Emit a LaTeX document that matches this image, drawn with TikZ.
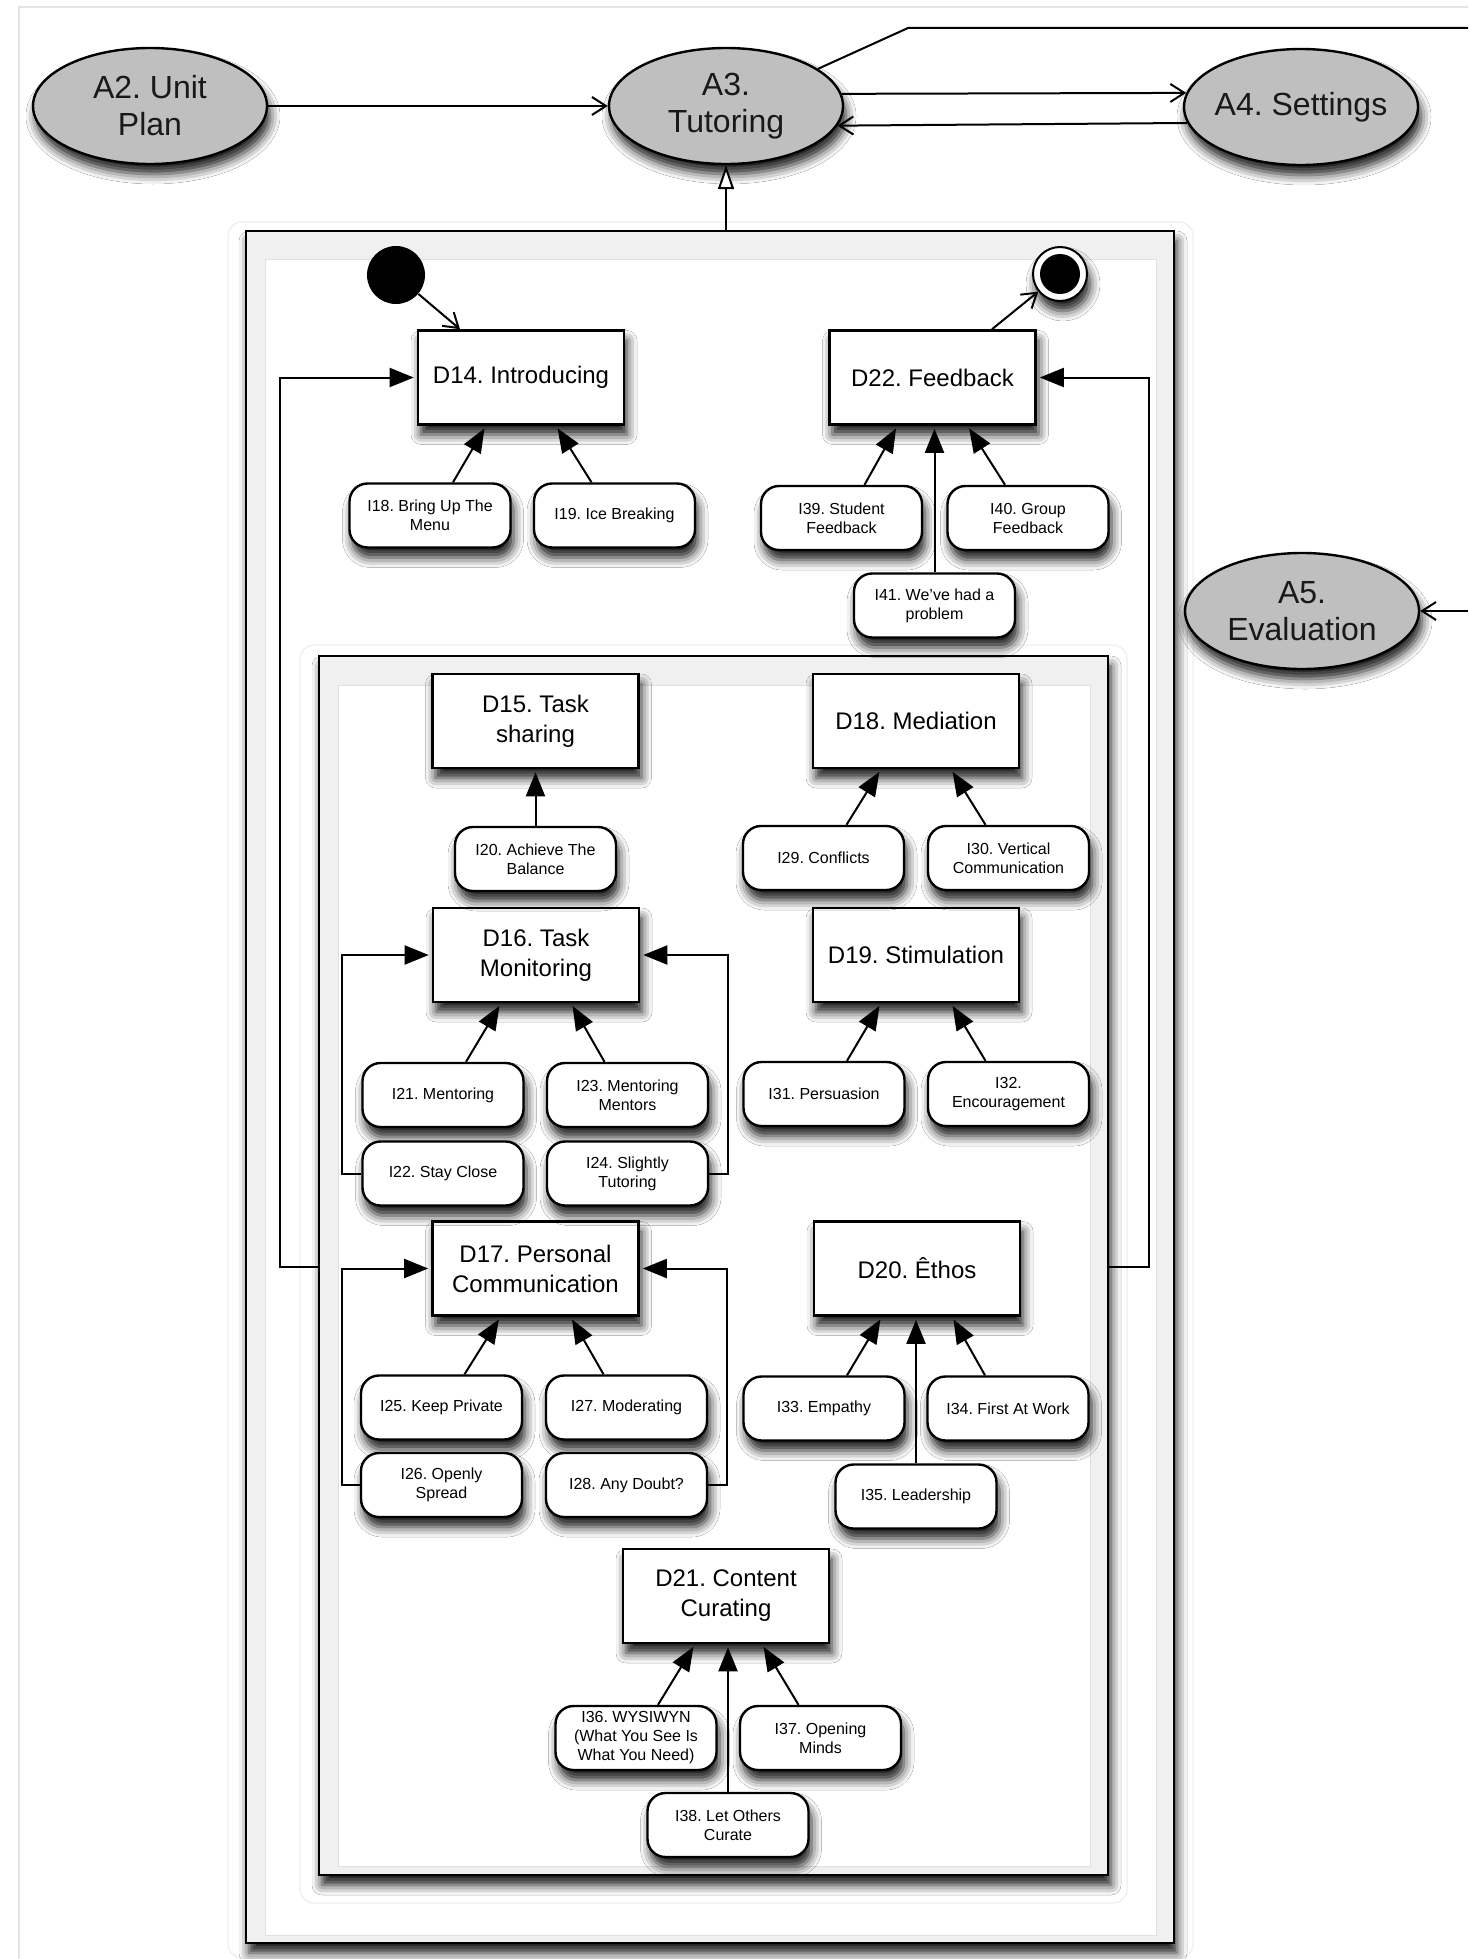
\documentclass[tikz,border=0pt]{standalone}
\usepackage{fontspec}
\setmainfont{Liberation Sans}
\usetikzlibrary{arrows.meta,shapes.geometric,shadows.blur}

\begin{document}
\frenchspacing
\begin{tikzpicture}[x=0.5pt,y=-0.5pt,
  shd/.style={blur shadow={shadow xshift=1.5pt,shadow yshift=-5pt,shadow blur radius=5pt,shadow opacity=90}},
  act/.style={ellipse,draw=black,line width=1.2pt,fill=black!25,minimum width=117pt,minimum height=58pt,inner sep=0pt,align=center,font=\fontsize{16}{18.5}\selectfont,text=black!90,shd},
  dec/.style={rectangle,draw=black,line width=1.3pt,fill=white,minimum width=103pt,minimum height=47pt,inner sep=0pt,align=center,font=\fontsize{12}{15}\selectfont,shd},
  ind/.style={rectangle,rounded corners=9pt,draw=black,line width=1.2pt,fill=white,minimum width=80.5pt,minimum height=32pt,inner sep=0pt,align=center,font=\fontsize{8}{9.5}\selectfont,shd},
  tri/.style={draw=black,line width=1pt,draw opacity=1,fill opacity=1,shorten >=1.5pt,-{Triangle[length=12pt,width=9.5pt,fill=black]}},
  opn/.style={draw=black,line width=1pt,draw opacity=1,-{Straight Barb[length=7pt,width=9pt]}},
  gen/.style={draw=black,line width=1pt,draw opacity=1,fill opacity=1,-{Triangle[open,length=12pt,width=8pt,fill=white]}},
  frm/.style={draw=black,line width=1.4pt,fill=black!6,shd},
  frmin/.style={draw=black!12,line width=0.5pt,fill=white},
  halo/.style={draw=black!8,line width=0.5pt,rounded corners=7pt},
]
\useasboundingbox (0,0) rectangle (1468,1959);
\fill[white] (0,0) rectangle (1468,1959);
\draw[black!10,line width=1pt] (19,1959) -- (19,7) -- (1468,7);

% frames
\draw[halo] (228,222) rectangle (1193,1958);
\path[frm] (246,231) rectangle (1174,1943);
\path[frmin] (265,259) rectangle (1156,1935);
\draw[halo] (300,645) rectangle (1127,1903);
\path[frm] (319,656) rectangle (1108,1875);
\path[frmin] (338,685) rectangle (1090,1866);
\coordinate (gtop) at (726,231);
\coordinate (inL) at (319,1267);
\coordinate (inR) at (1108,1267);
\coordinate (tr1) at (908,28);
\coordinate (tr2) at (1468,28);
\coordinate (a5in) at (1468,611);

% activities
\node[act] (A2) at (150,106) {A2. Unit\\Plan};
\node[act] (A3) at (726,106) {A3.\\Tutoring};
\node[act] (A4) at (1301,107) {\makebox[70pt]{A4. Settings}};
\node[act] (A5) at (1302,611) {A5.\\Evaluation};

% start / end
\node[circle,fill=black,minimum size=29pt,inner sep=0pt] (start) at (396,275) {};
\node[circle,draw=black,line width=1pt,fill=white,minimum size=27pt,inner sep=0pt,shd] (end) at (1060,274) {};
\node[circle,fill=black,fill opacity=1,minimum size=20pt,inner sep=0pt] (endin) at (1060,274) {};

% decisions
\node[dec] (D14) at (521,377.5) {D14. Introducing};
\node[dec] (D22) at (932.5,377.5) {D22. Feedback};
\node[dec] (D15) at (535.5,721) {D15. Task\\sharing};
\node[dec] (D18) at (916,721) {D18. Mediation};
\node[dec] (D16) at (536,955) {D16. Task\\Monitoring};
\node[dec] (D19) at (916,955) {D19. Stimulation};
\node[dec] (D17) at (535.5,1268.5) {D17. Personal\\Communication};
\node[dec] (D20) at (917,1268.5) {D20. Êthos};
\node[dec] (D21) at (726,1596) {D21. Content\\Curating};

% items
\node[ind] (I18) at (430,515.5) {I18. Bring Up The\\Menu};
\node[ind] (I19) at (614.5,515.5) {I19. Ice Breaking};
\node[ind] (I39) at (841.5,518) {I39. Student\\Feedback};
\node[ind] (I40) at (1028,518) {I40. Group\\Feedback};
\node[ind] (I41) at (934.5,605.5) {I41. We’ve had a\\problem};
\node[ind] (I20) at (535.5,859) {I20. Achieve The\\Balance};
\node[ind] (I29) at (823.5,858) {I29. Conflicts};
\node[ind] (I30) at (1008.5,858) {I30. Vertical\\Communication};
\node[ind] (I21) at (443,1095) {I21. Mentoring};
\node[ind] (I23) at (627.5,1095) {I23. Mentoring\\Mentors};
\node[ind] (I22) at (443,1173.5) {I22. Stay Close};
\node[ind] (I24) at (627.5,1173.5) {I24. Slightly\\Tutoring};
\node[ind] (I31) at (824,1094) {I31. Persuasion};
\node[ind] (I32) at (1008.5,1094) {I32.\\Encouragement};
\node[ind] (I25) at (441.5,1407.5) {I25. Keep Private};
\node[ind] (I27) at (626.5,1407.5) {I27. Moderating};
\node[ind] (I26) at (441.5,1485) {I26. Openly\\Spread};
\node[ind] (I28) at (626.5,1485) {I28. Any Doubt?};
\node[ind] (I33) at (824,1408.5) {I33. Empathy};
\node[ind] (I34) at (1008,1408.5) {I34. First At Work};
\node[ind] (I35) at (916,1496.5) {I35. Leadership};
\node[ind] (I36) at (636,1738) {I36. WYSIWYN\\(What You See Is\\What You Need)};
\node[ind] (I37) at (820.5,1738) {I37. Opening\\Minds};
\node[ind] (I38) at (728,1825) {I38. Let Others\\Curate};

% activity connectors
\draw[opn] (A2.east) -- (A3.west);
\draw[opn] (A3.6.5) -- (A4.173.5);
\draw[opn] (A4.188.6) -- (A3.350.8);
\draw[line width=1pt] (A3.22) -- (tr1) -- (tr2);
\draw[opn] (a5in) -- (A5.east);
\draw[gen] (gtop) -- (A3.south);

% start / end connectors
\draw[opn] (start) -- ([xshift=-30.5pt]D14.north);
\draw[opn] ([xshift=29.75pt]D22.north) -- (end);

% item connectors
\draw[tri] ([xshift=11.5pt]I18.north) -- ([xshift=-17.5pt]D14.south);
\draw[tri] ([xshift=-11.5pt]I19.north) -- ([xshift=17.5pt]D14.south);
\draw[tri] ([xshift=11.5pt]I39.north) -- ([xshift=-17.5pt]D22.south);
\draw[tri] ([xshift=-11.5pt]I40.north) -- ([xshift=17.5pt]D22.south);
\draw[tri] (I41.north) -- (I41.north |- D22.south);
\draw[tri] (I20.north) -- (D15.south);
\draw[tri] ([xshift=11.5pt]I29.north) -- ([xshift=-17.5pt]D18.south);
\draw[tri] ([xshift=-11.5pt]I30.north) -- ([xshift=17.5pt]D18.south);
\draw[tri] ([xshift=11.5pt]I21.north) -- ([xshift=-17.5pt]D16.south);
\draw[tri] ([xshift=-11.5pt]I23.north) -- ([xshift=17.5pt]D16.south);
\draw[tri] ([xshift=11.5pt]I31.north) -- ([xshift=-17.5pt]D19.south);
\draw[tri] ([xshift=-11.5pt]I32.north) -- ([xshift=17.5pt]D19.south);
\draw[tri] ([xshift=11.5pt]I25.north) -- ([xshift=-17.5pt]D17.south);
\draw[tri] ([xshift=-11.5pt]I27.north) -- ([xshift=17.5pt]D17.south);
\draw[tri] ([xshift=11.5pt]I33.north) -- ([xshift=-17.5pt]D20.south);
\draw[tri] ([xshift=-11.5pt]I34.north) -- ([xshift=17.5pt]D20.south);
\draw[tri] (I35.north) -- (I35.north |- D20.south);
\draw[tri] ([xshift=11pt]I36.north) -- ([xshift=-15.5pt]D21.south);
\draw[tri] ([xshift=-11pt]I37.north) -- ([xshift=18pt]D21.south);
\draw[tri] (I38.north) -- (I38.north |- D21.south);

% loops
\draw[tri] (I22.west) -- ++(-19,0) |- (D16.west);
\draw[tri] (I24.east) -- ++(19,0) |- (D16.east);
\draw[tri] (I26.west) -- ++(-18,0) |- (D17.west);
\draw[tri] (I28.east) -- ++(19,0) |- (D17.east);
\draw[tri] (inL) -- ++(-39,0) |- (D14.west);
\draw[tri] (inR) -- ++(41,0) |- (D22.east);
\end{tikzpicture}
\end{document}
